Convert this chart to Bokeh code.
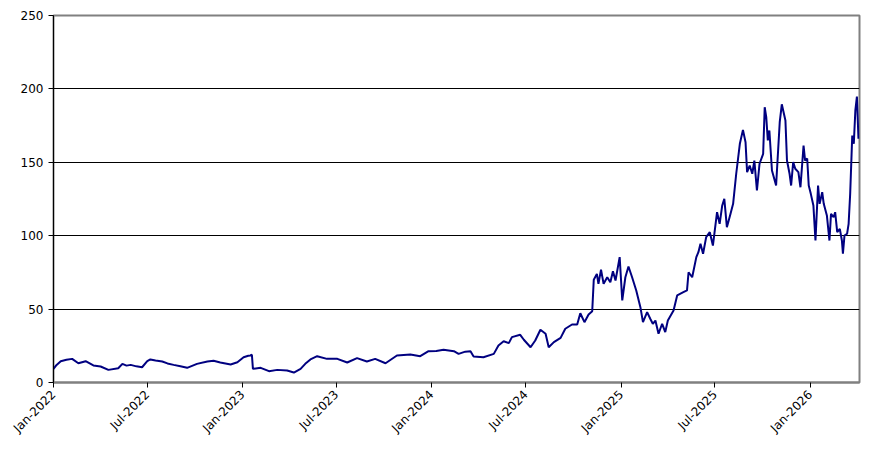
import math
import pandas as pd
from bokeh.plotting import figure
from bokeh.models import FixedTicker, DatetimeTickFormatter, Range1d
from bokeh.embed import file_html
from bokeh.resources import INLINE

start_date = "2022-01-01"
end_day = 1556
day_offsets = [0, 6, 14, 25, 36, 48, 62, 77, 91, 106, 125, 133, 141, 149, 160, 171, 181, 187, 197, 210,
               220, 232, 245, 258, 277, 297, 309, 322, 342, 355, 367, 376, 380, 383, 385, 400, 416, 432, 451, 464,
               477, 486, 496, 509, 528, 548, 567, 586, 605, 621, 641, 663, 689, 708, 724, 739, 753, 773, 782, 795,
               805, 811, 830, 850, 859, 869, 879, 885, 901, 908, 921, 930, 940, 950, 956, 966, 979, 988, 1001, 1011,
               1017, 1025, 1033, 1040, 1043, 1049, 1052, 1057, 1062, 1069, 1075, 1080, 1085, 1093, 1098, 1104, 1110, 1117, 1125, 1133,
               1138, 1146, 1152, 1157, 1162, 1168, 1175, 1181, 1186, 1197, 1204, 1216, 1223, 1226, 1233, 1241, 1245, 1249, 1254, 1260,
               1267, 1273, 1281, 1286, 1291, 1295, 1300, 1307, 1312, 1318, 1325, 1331, 1336, 1339, 1344, 1349, 1353, 1358, 1363, 1370,
               1373, 1376, 1379, 1382, 1387, 1395, 1402, 1406, 1413, 1416, 1421, 1424, 1428, 1432, 1438, 1442, 1448, 1451, 1455, 1458,
               1462, 1467, 1471, 1476, 1479, 1484, 1487, 1493, 1498, 1501, 1506, 1509, 1513, 1518, 1522, 1524, 1527, 1532, 1535, 1538,
               1542, 1545, 1548, 1551, 1554]
values = [9.3, 12.0, 14.5, 15.5, 16.1, 13.1, 14.5, 11.6, 10.9, 8.6, 9.7, 12.7, 11.5, 12.0, 11.0, 10.4, 14.5, 15.7, 15.0, 14.3,
          13.0, 12.0, 11.0, 10.0, 12.7, 14.3, 14.8, 13.6, 12.3, 13.8, 17.2, 18.2, 18.4, 18.9, 9.3, 10.0, 7.7, 8.6, 8.2, 6.8,
          9.3, 12.7, 15.7, 17.9, 16.1, 16.1, 13.6, 16.6, 14.3, 16.1, 13.1, 18.4, 19.1, 17.9, 21.3, 21.5, 22.3, 21.3, 19.5, 21.0,
          21.3, 17.7, 17.2, 19.5, 25.2, 28.1, 26.8, 30.9, 32.5, 29.1, 24.0, 28.6, 35.9, 33.2, 24.0, 27.5, 30.4, 36.6, 39.5, 39.5,
          47.2, 41.1, 46.3, 48.5, 70.0, 74.0, 67.2, 76.8, 67.2, 71.7, 68.3, 75.8, 69.5, 85.4, 55.9, 71.7, 79.0, 71.7, 62.7, 51.3,
          41.1, 47.9, 43.4, 40.0, 42.2, 33.2, 40.0, 34.3, 42.2, 49.0, 59.3, 61.5, 62.7, 75.1, 71.7, 85.4, 88.8, 94.5, 87.7, 99.0,
          102.4, 93.3, 116.0, 108.1, 120.6, 125.1, 105.8, 114.9, 121.7, 142.2, 162.6, 172.1, 163.7, 143.3, 147.8, 142.2, 151.2, 130.8, 149.0, 155.8,
          187.5, 180.7, 164.9, 171.7, 144.4, 134.2, 177.3, 189.5, 178.5, 151.2, 142.2, 134.2, 150.1, 145.6, 143.3, 133.0, 161.4, 151.2, 152.6, 134.2,
          128.5, 120.6, 96.7, 134.2, 121.7, 129.6, 121.7, 113.8, 96.7, 114.9, 112.6, 116.0, 102.4, 104.7, 96.7, 87.7, 100.1, 101.3, 108.1, 128.5,
          168.3, 162.6, 185.3, 194.8, 166.0]
tick_dates = ["2022-01-01", "2022-07-01", "2023-01-01", "2023-07-01", "2024-01-01",
              "2024-07-01", "2025-01-01", "2025-07-01", "2026-01-01"]
y_ticks = [0, 50, 100, 150, 200, 250]

t0 = pd.Timestamp(start_date)
dates = t0 + pd.to_timedelta(day_offsets, unit="D")
t_end = t0 + pd.Timedelta(days=end_day)

p = figure(width=875, height=443, output_backend="svg", toolbar_location=None,
           x_axis_type="datetime",
           x_range=Range1d(t0, t_end), y_range=Range1d(0, 250),
           min_border_left=53, min_border_right=16, min_border_top=15, min_border_bottom=59)
p.background_fill_color = "white"
p.border_fill_color = "white"
p.outline_line_color = "#808080"
p.outline_line_width = 2

p.line(dates, values, line_color="#000080", line_width=2)

tick_ms = [pd.Timestamp(d).value // 10**6 for d in tick_dates]
p.xaxis.ticker = FixedTicker(ticks=tick_ms)
fmt = "%b-%Y"
p.xaxis.formatter = DatetimeTickFormatter(days=fmt, months=fmt, years=fmt)
p.xaxis.major_label_orientation = math.pi / 4
p.yaxis.ticker = FixedTicker(ticks=y_ticks)

for ax in (p.xaxis, p.yaxis):
    ax.major_label_text_font = "DejaVu Sans"
    ax.major_label_text_font_size = "12px"
    ax.major_label_text_color = "black"
    ax.major_tick_line_color = "black"
    ax.major_tick_out = 5
    ax.major_tick_in = 0
    ax.minor_tick_line_color = None
    ax.axis_line_color = "black"
p.xaxis.axis_line_color = "#808080"
p.xaxis.axis_line_width = 2

p.xgrid.grid_line_color = None
p.ygrid.ticker = FixedTicker(ticks=[50, 100, 150, 200])
p.ygrid.grid_line_color = "black"
p.ygrid.grid_line_width = 1

open("out.html", "w").write(file_html(p, INLINE))
